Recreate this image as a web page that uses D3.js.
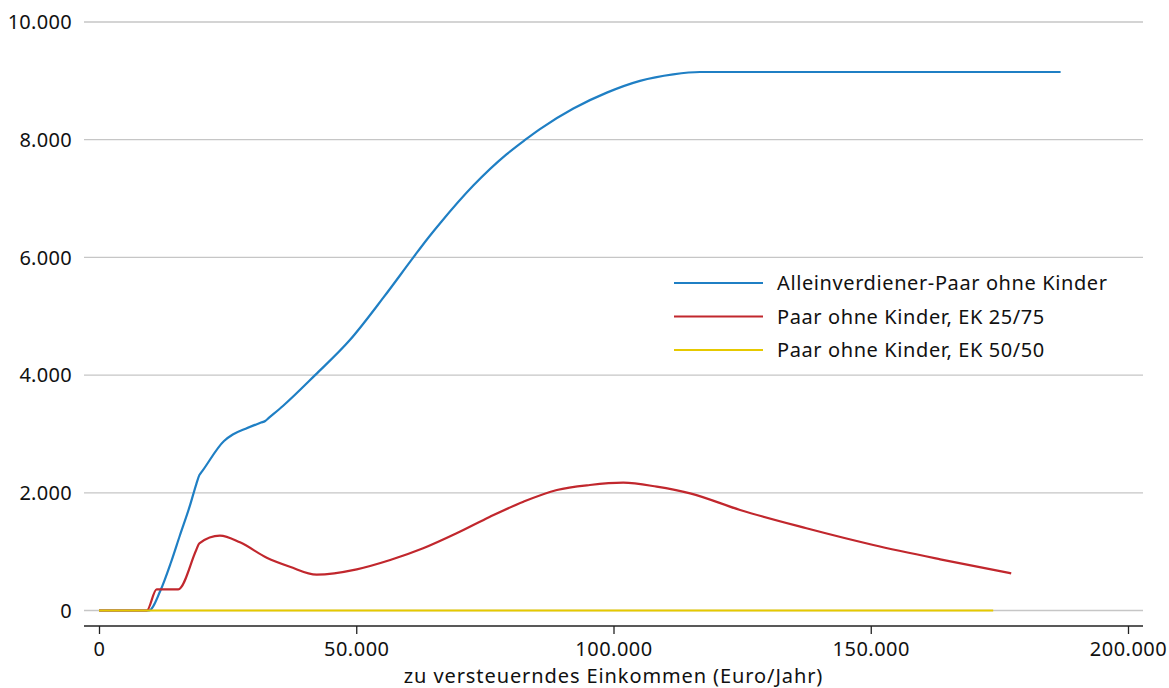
<!DOCTYPE html>
<html>
<head>
<meta charset="utf-8">
<script src="https://cdn.jsdelivr.net/npm/d3@7"></script>
<style>
  body { margin: 0; background: #fff; }
  svg { display: block; font-family: "Source Sans Pro", "Noto Sans", Lato, sans-serif; }
</style>
</head>
<body>
<div id="chart"></div>
<script>
// data (income in Euro/Jahr, value in Euro)
const seriesNames = ["Alleinverdiener-Paar ohne Kinder", "Paar ohne Kinder, EK 25/75", "Paar ohne Kinder, EK 50/50"];
const seriesColors = ["#1f7fc4", "#c1272d", "#e6c900"];

const blueIncome = [0, 9700, 11900, 14000, 15700, 17700, 18900, 19500, 20100, 24300, 26000, 28500, 31500, 32300, 33000, 35800, 42000, 48800, 55300, 61100, 63700, 66300, 72750, 79200, 82800, 85700, 92200, 98700, 105150, 111600, 116800, 186900];
const blueValue  = [0, 0, 330, 820, 1270, 1790, 2144, 2300, 2372, 2880, 2990, 3090, 3193, 3220, 3272, 3480, 4000, 4600, 5320, 6000, 6300, 6580, 7220, 7750, 7995, 8180, 8530, 8800, 9000, 9110, 9150, 9150];

const redIncome = [0, 9300, 11200, 15400, 18900, 19500, 23500, 27400, 32600, 37100, 42300, 50100, 56600, 63000, 69500, 76000, 82500, 89000, 95400, 101900, 108400, 114900, 124600, 137500, 150500, 163500, 177300];
const redValue  = [0, 0, 360, 360, 1028, 1142, 1272, 1159, 897, 744, 610, 700, 858, 1057, 1312, 1594, 1849, 2048, 2133, 2172, 2104, 1991, 1708, 1397, 1113, 870, 632];

const yellowIncome = [0, 173800];
const yellowValue  = [0, 0];

const xTicks = [0, 50000, 100000, 150000, 200000];
const yTicks = [0, 2000, 4000, 6000, 8000, 10000];

const width = 1169, height = 688;
const fmt = d3.format(",.0f");
const de = v => fmt(v).replace(/,/g, ".");

const x = d3.scaleLinear().domain([0, 200000]).range([99, 1128]);
const y = d3.scaleLinear().domain([0, 10000]).range([610.5, 22]);
const plotLeft = 84, plotRight = 1143;

const svg = d3.select("#chart").append("svg")
    .attr("width", width)
    .attr("height", height);

// horizontal gridlines
svg.append("g")
  .selectAll("line")
  .data(yTicks)
  .join("line")
    .attr("x1", plotLeft)
    .attr("x2", plotRight)
    .attr("y1", d => y(d))
    .attr("y2", d => y(d))
    .attr("stroke", "#c6c6c6")
    .attr("stroke-width", 1.3);

// y labels
svg.append("g")
    .attr("text-anchor", "end")
    .style("font-size", "20px")
    .style("letter-spacing", "0.3px")
    .attr("fill", "#111")
  .selectAll("text")
  .data(yTicks)
  .join("text")
    .attr("x", 72)
    .attr("y", d => y(d))
    .attr("dy", "0.36em")
    .text(d => de(d));

// x axis
const xAxis = svg.append("g")
    .attr("transform", "translate(0,626)")
    .call(d3.axisBottom(x).tickValues(xTicks).tickSize(8).tickPadding(8).tickFormat(de));
xAxis.attr("font-family", null).attr("font-size", null);
xAxis.select(".domain").attr("d", `M${plotLeft},0H${plotRight}`).attr("stroke", "#222").attr("stroke-width", 1.5);
xAxis.selectAll(".tick line").attr("stroke", "#222").attr("stroke-width", 1.3);
xAxis.selectAll(".tick text").style("font-size", "20px").style("letter-spacing", "0.5px").attr("fill", "#111");

svg.append("text")
    .attr("x", x(100000))
    .attr("y", 683)
    .attr("text-anchor", "middle")
    .style("font-size", "20px")
    .style("letter-spacing", "0.9px")
    .attr("fill", "#111")
    .text("zu versteuerndes Einkommen (Euro/Jahr)");

// lines
const line = d3.line()
    .x(d => x(d[0]))
    .y(d => y(d[1]))
    .curve(d3.curveMonotoneX);

const series = [
  d3.zip(blueIncome, blueValue),
  d3.zip(redIncome, redValue),
  d3.zip(yellowIncome, yellowValue)
];

svg.append("g")
  .selectAll("path")
  .data(series)
  .join("path")
    .attr("fill", "none")
    .attr("stroke", (d, i) => seriesColors[i])
    .attr("stroke-width", 2.2)
    .attr("stroke-linejoin", "round")
    .attr("d", line);

// legend
const legend = svg.append("g")
  .selectAll("g")
  .data(seriesNames)
  .join("g")
    .attr("transform", (d, i) => `translate(674,${283 + i * 33.5})`);

legend.append("line")
    .attr("x1", 0)
    .attr("x2", 89)
    .attr("stroke", (d, i) => seriesColors[i])
    .attr("stroke-width", 2.2);

legend.append("text")
    .attr("x", 103)
    .attr("dy", "0.35em")
    .style("font-size", "20px")
    .style("letter-spacing", "0.6px")
    .attr("fill", "#111")
    .text(d => d);
</script>
</body>
</html>
